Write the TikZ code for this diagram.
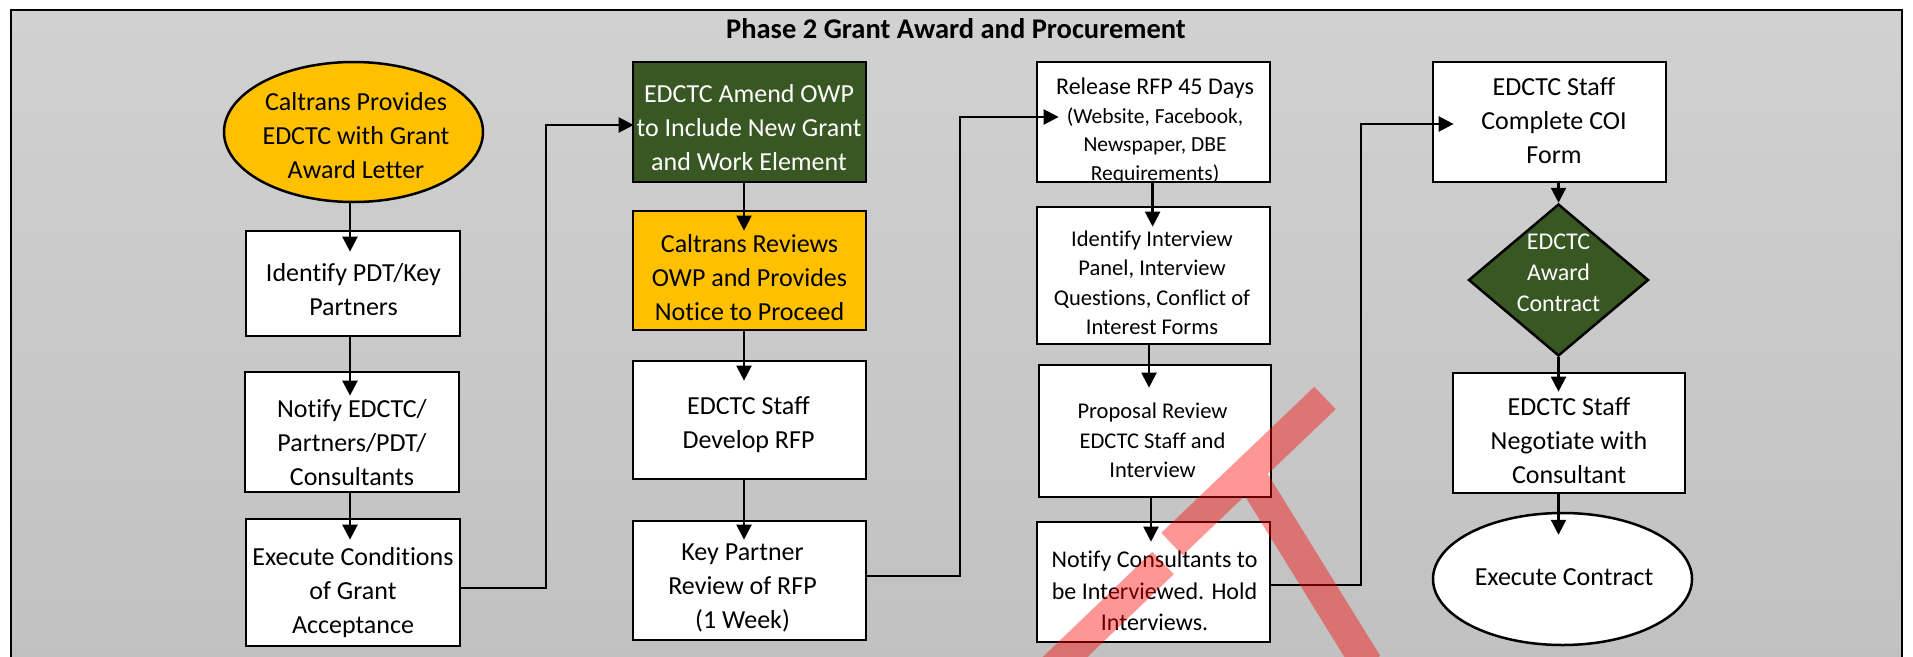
\documentclass[tikz,border=0pt]{standalone}
\usepackage{fontspec}
\setmainfont{Carlito}[Ligatures=NoCommon]
\usetikzlibrary{arrows.meta,shapes.geometric,calc}
\definecolor{cyellow}{HTML}{FFC000}
\definecolor{cgreen}{RGB}{56,87,35}
\definecolor{bgtop}{HTML}{D1D1D1}
\definecolor{bgbot}{HTML}{C1C1C1}
\tikzset{
  boxw/.style={rectangle, draw=black, line width=2.7pt, fill=white, inner sep=0pt},
  ovalnode/.style={ellipse, draw=black, line width=2.5pt, inner sep=0pt},
  dianode/.style={diamond, draw=black, line width=2.5pt, inner sep=0pt, fill=cgreen},
  tmain/.style={align=center, inner sep=0pt, font=\fontsize{26}{34}\selectfont},
  tmid/.style={align=center, inner sep=0pt, font=\fontsize{24}{31.5}\selectfont},
  tsmall/.style={align=center, inner sep=0pt, font=\fontsize{22.5}{29.5}\selectfont},
  ttitle/.style={inner sep=0pt, font=\fontsize{28.5}{34}\selectfont\bfseries},
  arr/.style={-{Triangle[length=15pt,width=15pt]}, line width=2.3pt, draw=black},
  overlay/.style={draw=red, opacity=0.41, line width=31pt}
}
\begin{document}
\begin{tikzpicture}[x=1pt,y=-1pt]
\useasboundingbox (0,0) rectangle (1913,656);
\shade[top color=bgtop, bottom color=bgbot] (11,10) rectangle (1902,664);
\draw[line width=1.5pt] (11,664) -- (11,10) -- (1902,10) -- (1902,664);
\node[ttitle] (title) at (956,29) {Phase 2 Grant Award and Procurement};

% column x positions of the vertical connectors
\coordinate (c1) at (350,0);
\coordinate (c2) at (744,0);
\coordinate (c3a) at (1152.6,0);
\coordinate (c3b) at (1149,0);
\coordinate (c3c) at (1151,0);
\coordinate (c4) at (1558.5,0);
\coordinate (j1) at (546,0);
\coordinate (j2) at (960,0);
\coordinate (j3) at (1361,0);

% column 1
\node[ovalnode, fill=cyellow, minimum width=259pt, minimum height=140pt] (ell) at (353.5,132) {};
\node[tmain] (ellt) at (356,136) {Caltrans Provides\\EDCTC with Grant\\Award Letter};
\node[boxw, minimum width=214pt, minimum height=105pt] (id) at (353,283.5) {};
\node[tmain] (idt) at (353.5,289.3) {Identify PDT/Key\\Partners};
\node[boxw, minimum width=214pt, minimum height=120pt] (ntf) at (352,432) {};
\node[tmain] (ntft) at (352,442.3) {Notify EDCTC/\\Partners/PDT/\\Consultants};
\node[boxw, minimum width=214pt, minimum height=127pt] (exe) at (353,582.5) {};
\node[tmain] (exet) at (353,592.5) {Execute Conditions\\of Grant\\Acceptance};

% column 2
\node[boxw, fill=cgreen, minimum width=233pt, minimum height=120pt] (grn) at (749.5,122) {};
\node[tmain, text=white] (grnt) at (749,127.3) {EDCTC Amend OWP\\to Include New Grant\\and Work Element};
\node[boxw, fill=cyellow, minimum width=233pt, minimum height=119pt] (yel) at (749.5,270.5) {};
\node[tmain] (yelt) at (749.5,277.3) {Caltrans Reviews\\OWP and Provides\\Notice to Proceed};
\node[boxw, minimum width=233pt, minimum height=118pt] (dev) at (749.5,420) {};
\node[tmain] (devt) at (748.5,425) {EDCTC Staff\\Develop RFP};
\node[boxw, minimum width=233pt, minimum height=119pt] (key) at (749.5,580.5) {};
\node[tmain] (keyt) at (742.5,588) {Key Partner\\Review of RFP\\(1 Week)};

% column 3
\node[boxw, minimum width=233pt, minimum height=120pt] (rel) at (1153.5,122) {};
\begin{scope}
\clip ([xshift=1.3pt,yshift=1.3pt]rel.south west) rectangle ([xshift=-1.3pt,yshift=-1.3pt]rel.north east);
\node[align=center, inner sep=0pt, font=\fontsize{21.5}{28.5}\selectfont] (relt) at (1155,131)
  {{\fontsize{24}{28.5}\selectfont Release RFP 45 Days}\\(Website, Facebook,\\Newspaper, DBE\\Requirements)};
\end{scope}
\node[boxw, minimum width=233pt, minimum height=137pt] (iiv) at (1153.5,275.5) {};
\node[tsmall] (iivt) at (1152,282.6) {Identify Interview\\Panel, Interview\\Questions, Conflict of\\Interest Forms};
\node[boxw, minimum width=232pt, minimum height=132pt] (pro) at (1155,431) {};
\node[tsmall] (prot) at (1152.5,440.7) {Proposal Review\\EDCTC Staff and\\Interview};
\node[boxw, minimum width=233pt, minimum height=120pt] (ncs) at (1153.5,582) {};
\node[tmid] (ncst) at (1154.5,591) {Notify Consultants to\\be Interviewed. Hold\\Interviews.};

% column 4
\node[boxw, minimum width=233pt, minimum height=120pt] (coi) at (1549.5,122) {};
\node[tmain] (coit) at (1554,120.6) {EDCTC Staff\\Complete COI\\Form};
\node[dianode, minimum width=180pt, minimum height=152pt] (dia) at (1558.5,280) {};
\node[tmid, text=white, font=\fontsize{24}{31}\selectfont] (diat) at (1558.5,272.3) {EDCTC\\Award\\Contract};
\node[boxw, minimum width=232pt, minimum height=120pt] (neg) at (1569,433) {};
\node[tmain] (negt) at (1569,440.3) {EDCTC Staff\\Negotiate with\\Consultant};
\node[ovalnode, fill=white, minimum width=259pt, minimum height=132pt] (exc) at (1562.5,579) {};
\node[tmain] (exct) at (1564,577) {Execute Contract};

% connectors
\draw[arr, shorten >=-22pt] (ell.south -| c1) -- (id.north -| c1);
\draw[arr, shorten >=-25pt] (id.south -| c1) -- (ntf.north -| c1);
\draw[arr, shorten >=-22pt] (ntf.south -| c1) -- (exe.north -| c1);
\coordinate (exeo) at ([yshift=-5.5pt]exe.east);
\coordinate (grni) at ([yshift=-3pt]grn.west);
\draw[arr, shorten >=-2pt] (exeo) -- (exeo -| j1) -- (grni -| j1) -- (grni);

\draw[arr, shorten >=-21pt] (grn.south -| c2) -- (yel.north -| c2);
\draw[arr, shorten >=-21pt] (yel.south -| c2) -- (dev.north -| c2);
\draw[arr, shorten >=-20pt] (dev.south -| c2) -- (key.north -| c2);
\coordinate (keyo) at ([yshift=4.5pt]key.east);
\coordinate (reli) at ([yshift=5pt]rel.west);
\draw[arr, shorten >=-23pt] (keyo) -- (keyo -| j2) -- (reli -| j2) -- (reli);

\draw[arr, shorten >=-21pt] (rel.south -| c3a) -- (iiv.north -| c3a);
\draw[arr, shorten >=-24pt] (iiv.south -| c3b) -- (pro.north -| c3b);
\draw[arr, shorten >=-21pt] (pro.south -| c3c) -- (ncs.north -| c3c);
\coordinate (ncso) at ([yshift=-3pt]ncs.east);
\coordinate (coii) at ([yshift=-2pt]coi.west);
\draw[arr, shorten >=-22pt] (ncso) -- (ncso -| j3) -- (coii -| j3) -- (coii);

\draw[arr] (coi.south -| c4) -- (dia.north);
\draw[arr, shorten >=-20pt] (dia.south) -- (neg.north -| c4);
\draw[arr, shorten >=-23pt] (neg.south -| c4) -- (exc.north -| c4);

% red overlay strokes
\draw[overlay] (1325,398) -- (1172,544) (1163,563) -- (1038,683) (1252,478) -- (1367,664);
\end{tikzpicture}
\end{document}
